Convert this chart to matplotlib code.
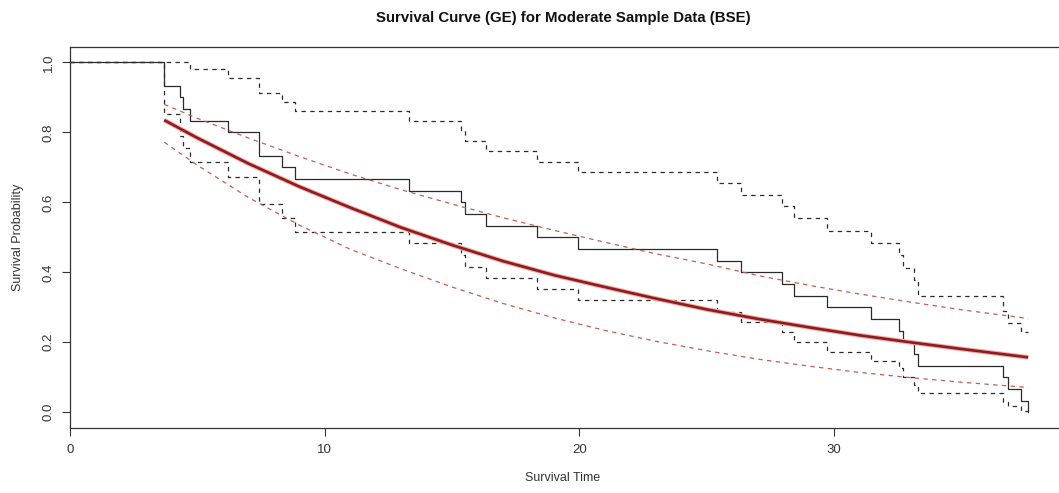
import matplotlib
matplotlib.use("Agg")
import matplotlib.pyplot as plt

# Kaplan-Meier estimate
km_time = [0, 3.7, 4.32, 4.45, 4.71, 6.22, 7.43, 8.33, 8.85, 13.3, 15.34, 15.5, 16.32,
           18.34, 19.93, 25.41, 26.34, 27.94, 28.42, 29.73, 31.43, 32.55, 32.72, 33.14,
           33.31, 36.62, 36.83, 37.33, 37.62]
km_surv = [1.0, 0.933, 0.9, 0.867, 0.833, 0.8, 0.733, 0.7, 0.667, 0.633, 0.6, 0.567, 0.533,
           0.5, 0.467, 0.433, 0.4, 0.367, 0.333, 0.3, 0.267, 0.233, 0.2, 0.167,
           0.133, 0.1, 0.067, 0.033, 0.0]
km_upper = [1.0, 1.0, 1.0, 1.0, 0.981, 0.956, 0.913, 0.887, 0.861, 0.833, 0.807, 0.776, 0.747,
            0.716, 0.686, 0.654, 0.621, 0.59, 0.554, 0.519, 0.485, 0.449, 0.411, 0.378,
            0.333, 0.29, 0.256, 0.23, 0.23]
km_lower = [1.0, 0.851, 0.79, 0.754, 0.714, 0.671, 0.594, 0.554, 0.516, 0.483, 0.450, 0.414, 0.383,
            0.351, 0.321, 0.287, 0.259, 0.23, 0.2, 0.173, 0.147, 0.126, 0.1, 0.078,
            0.054, 0.03, 0.018, 0.004, 0.004]

# GE fitted survival curve with bounds
fit_time = [3.7, 5, 7, 9, 11, 13, 15, 17, 19, 21, 23, 25, 27, 29, 31, 33, 35, 37.62]
fit_surv = [0.835, 0.784, 0.711, 0.645, 0.585, 0.528, 0.478, 0.432, 0.392, 0.358, 0.325,
            0.294, 0.267, 0.243, 0.220, 0.200, 0.181, 0.157]
fit_upper = [0.880, 0.840, 0.784, 0.731, 0.681, 0.636, 0.595, 0.556, 0.520, 0.486, 0.453,
             0.424, 0.391, 0.363, 0.338, 0.315, 0.293, 0.268]
fit_lower = [0.772, 0.706, 0.614, 0.535, 0.466, 0.410, 0.358, 0.311, 0.270, 0.234, 0.203,
             0.176, 0.152, 0.132, 0.114, 0.099, 0.086, 0.071]

x_ticks = [0, 10, 20, 30]
y_ticks = [0.0, 0.2, 0.4, 0.6, 0.8, 1.0]

plt.rcParams['font.family'] = ['Liberation Sans', 'DejaVu Sans']

fig = plt.figure(figsize=(10.59, 4.93), dpi=100)
ax = fig.add_axes([70 / 1059, 1 - 427.7 / 493, (1059 - 70) / 1059, (427.7 - 47.3) / 493])

dash = (3.5, 3.5)
ax.step(km_time, km_surv, where='post', color='#2a2a2a', lw=0.9)
ax.step(km_time, km_upper, where='post', color='#2a2a2a', lw=0.9, linestyle=(0, dash))
ax.step(km_time, km_lower, where='post', color='#2a2a2a', lw=0.9, linestyle=(0, dash))

ax.plot(fit_time, fit_surv, color='#F2A8A8', lw=3.4, solid_capstyle='butt')
ax.plot(fit_time, fit_surv, color='#8E1C1C', lw=1.9, solid_capstyle='butt')
ax.plot(fit_time, fit_upper, color='#C06050', lw=0.9, linestyle=(0, dash))
ax.plot(fit_time, fit_lower, color='#C06050', lw=0.9, linestyle=(0, dash))

ax.set_xlim(0, (1059 - 70) / 25.47)
ax.set_ylim(-0.044, 1.043)
ax.set_xticks(x_ticks)
ax.set_xticklabels([str(v) for v in x_ticks])
ax.set_yticks(y_ticks)
ax.set_yticklabels([f"{v:.1f}" for v in y_ticks], rotation=90, va='center')
ax.tick_params(axis='both', direction='out', length=6, width=0.8, colors='#333333',
               labelsize=9.5, pad=6)
ax.tick_params(axis='y', pad=5)
for s in ['left', 'bottom', 'top']:
    ax.spines[s].set_color('#333333')
    ax.spines[s].set_linewidth(0.9)
ax.spines['right'].set_visible(False)

fig.text(0.5316, 1 - 18 / 493, "Survival Curve (GE) for Moderate Sample Data (BSE)",
         ha='center', va='center', fontsize=10.8, fontweight='bold', color='#111111')
fig.text(563 / 1059, 1 - 478 / 493, "Survival Time", ha='center', va='center',
         fontsize=9, color='#333333')
fig.text(18 / 1059, 1 - 237 / 493, "Survival Probability", ha='center', va='center',
         rotation=90, fontsize=9, color='#333333')

fig.savefig("out.png", dpi=100)
